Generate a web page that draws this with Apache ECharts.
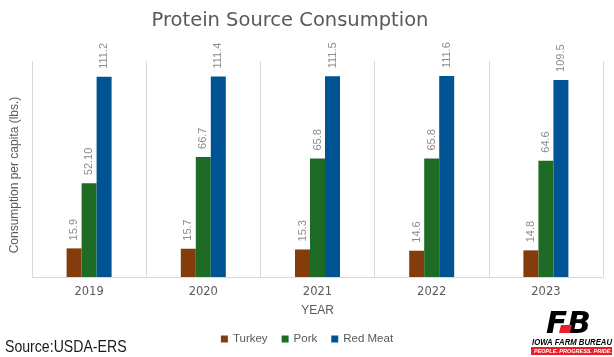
<!DOCTYPE html>
<html>
<head>
<meta charset="utf-8">
<script src="https://cdn.jsdelivr.net/npm/echarts@6/dist/echarts.min.js"></script>
<style>html,body{margin:0;padding:0;background:#fff;}#c{width:614px;height:357px;}</style>
</head>
<body>
<div id="c"></div>
<script>
var years = ['2019', '2020', '2021', '2022', '2023'];
var turkey = [15.9, 15.7, 15.3, 14.6, 14.8];
var pork = [52.1, 66.7, 65.8, 65.8, 64.6];
var redMeat = [111.2, 111.4, 111.5, 111.6, 109.5];
var turkeyLabels = ['15.9', '15.7', '15.3', '14.6', '14.8'];
var porkLabels = ['52.10', '66.7', '65.8', '65.8', '64.6'];
var redMeatLabels = ['111.2', '111.4', '111.5', '111.6', '109.5'];

var FONT = 'Liberation Sans, Arial, sans-serif';
var WIDE = 'DejaVu Sans, sans-serif';
function mkLabel(arr) {
  return {
    show: true, position: 'top', rotate: 90, align: 'left', verticalAlign: 'middle',
    distance: 8, color: '#8c8c8c', fontSize: 11, fontFamily: FONT,
    formatter: function (p) { return arr[p.dataIndex]; }
  };
}
var chart = echarts.init(document.getElementById('c'));
chart.setOption({
  animation: false,
  backgroundColor: '#fff',
  title: {
    text: 'Protein Source Consumption', left: 285, top: 6, textAlign: 'center',
    textStyle: { fontSize: 19.5, fontWeight: 'normal', color: '#595959', fontFamily: WIDE }
  },
  grid: { left: 32, right: 11, top: 61, bottom: 80 },
  legend: {
    data: ['Turkey', 'Pork', 'Red Meat'], left: 'center', top: 328,
    icon: 'rect', itemWidth: 7, itemHeight: 7, itemGap: 14,
    textStyle: { fontSize: 11.5, color: '#595959', fontFamily: FONT }
  },
  xAxis: {
    type: 'category', data: years,
    name: 'YEAR', nameLocation: 'middle', nameGap: 28,
    nameTextStyle: { fontSize: 12, color: '#595959', fontFamily: FONT },
    axisLine: { show: true, lineStyle: { color: '#d9d9d9' } },
    axisTick: { show: false },
    axisLabel: { margin: 9, fontSize: 11.5, color: '#595959', fontFamily: WIDE },
    splitLine: { show: true, lineStyle: { color: '#d9d9d9' } }
  },
  yAxis: {
    type: 'value', min: 0, max: 120,
    axisLine: { show: false }, axisTick: { show: false },
    axisLabel: { show: false }, splitLine: { show: false }
  },
  series: [
    { name: 'Turkey', type: 'bar', data: turkey, barWidth: 15, barGap: '0%',
      itemStyle: { color: '#843c0c' }, label: mkLabel(turkeyLabels) },
    { name: 'Pork', type: 'bar', data: pork, barWidth: 15, barGap: '0%',
      itemStyle: { color: '#1e6b26' }, label: mkLabel(porkLabels) },
    { name: 'Red Meat', type: 'bar', data: redMeat, barWidth: 15, barGap: '0%',
      itemStyle: { color: '#005494' }, label: mkLabel(redMeatLabels) }
  ],
  graphic: [
    { type: 'text', x: 15, y: 175, rotation: Math.PI / 2,
      style: { text: 'Consumption per capita (lbs.)', fontSize: 12, fill: '#595959', fontFamily: FONT,
               align: 'center', verticalAlign: 'middle' } },
    { type: 'text', x: 5, y: 347, scaleX: 0.83,
      style: { text: 'Source:USDA-ERS', fontSize: 17, fill: '#1a1a1a', fontFamily: FONT, verticalAlign: 'middle' } },
    { type: 'group', left: 531, top: 309, children: [
      { type: 'text', x: 16, y: 0, style: { text: 'FB', fontSize: 31, fontWeight: 'bold', fontStyle: 'italic', fill: '#000', fontFamily: WIDE } },
      { type: 'polygon', shape: { points: [[31, 16], [42, 16], [40, 24], [29, 24]] }, style: { fill: '#e8202a' } },
      { type: 'text', x: 2, y: 29, scaleX: 0.86, style: { text: 'IOWA FARM BUREAU', fontSize: 9, fontWeight: 'bold', fontStyle: 'italic', fill: '#000', fontFamily: FONT } },
      { type: 'rect', shape: { x: 1, y: 38, width: 81, height: 8 }, style: { fill: '#e8202a' } },
      { type: 'text', x: 4, y: 39.5, style: { text: 'PEOPLE. PROGRESS. PRIDE.', fontSize: 5.5, fontWeight: 'bold', fontStyle: 'italic', fill: '#fff', fontFamily: FONT } }
    ] }
  ]
});
</script>
</body>
</html>
